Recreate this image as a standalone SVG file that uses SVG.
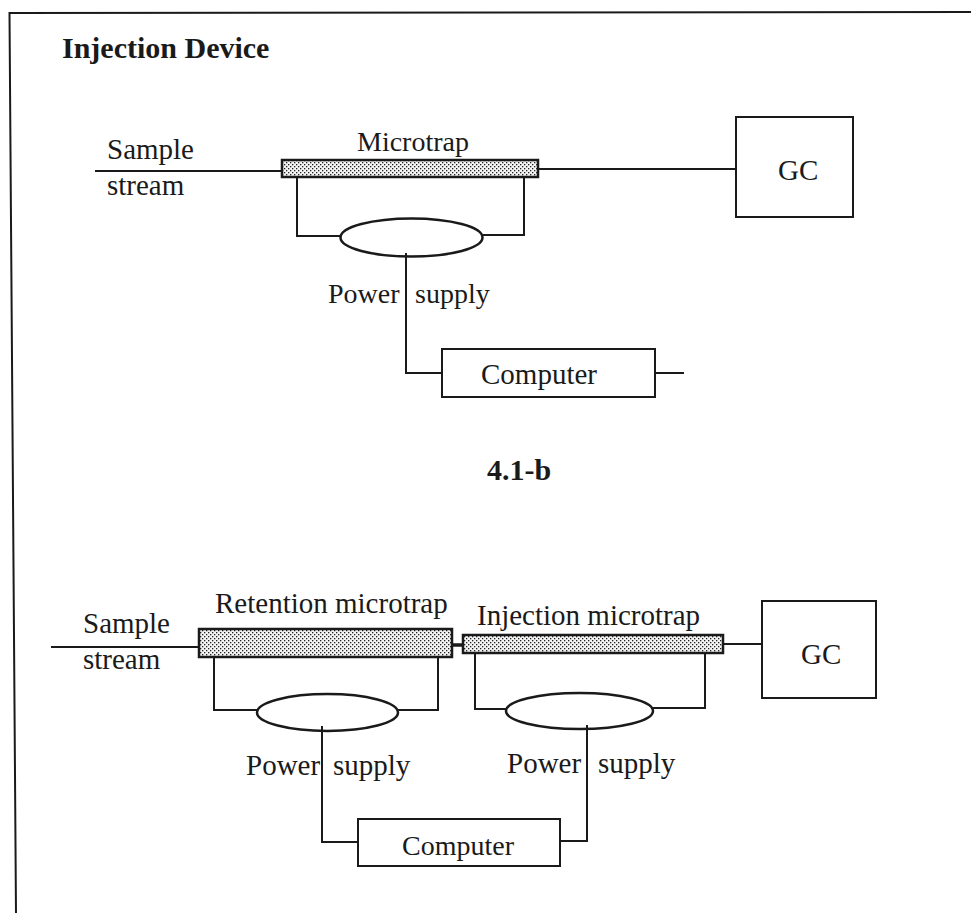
<svg xmlns="http://www.w3.org/2000/svg" width="971" height="913" viewBox="0 0 971 913">
<style>
text{font-family:"Liberation Serif","Times New Roman",serif;fill:#1a1a1a;font-size:29px}
.b{font-weight:bold;font-size:30px}
.c{font-size:28px}
.l{fill:none;stroke:#1a1a1a;stroke-width:2}
.h{fill:none;stroke:#1a1a1a;stroke-width:3.5}
.t{fill:url(#dots);stroke:#1a1a1a;stroke-width:2.5}
.e{fill:#fff;stroke:#1a1a1a;stroke-width:2.5}
.r{fill:#fff;stroke:#1a1a1a;stroke-width:2}
</style>
<defs><pattern id="dots" width="4" height="4" patternUnits="userSpaceOnUse"><rect width="4" height="4" fill="#f4f4f4"/><rect width="1.3" height="1.3" fill="#222"/><rect x="2" y="2" width="1.3" height="1.3" fill="#222"/></pattern></defs>
<rect width="971" height="913" fill="#fff"/>
<g id="frame"><path class="l" d="M16 913L9.5 13L971 12"/></g>
<g id="connectors">
<path class="l" d="M95 171H282M538 169H736M297 178V236H342M524 178V235H483M406 253V373H442M655 373H684"/>
<path class="l" d="M51 647H199M723 644H762M214 657V710H257M438 657V710H398M322 726V842H358M587 725V841H560M475 653V709H506M705 653V708H653"/>
<path class="h" d="M452 645H463"/>
</g>
<g id="title"><text class="b" x="62" y="58">Injection Device</text></g>
<g id="sample1"><text x="107" y="159">Sample</text><text x="107" y="195">stream</text></g>
<g id="microtrap1"><rect class="t" x="282" y="160" width="256" height="17"/><text class="c" x="357" y="151">Microtrap</text></g>
<g id="gc1"><rect class="r" x="736" y="117" width="117" height="100"/><text x="778" y="180">GC</text></g>
<g id="power1"><ellipse class="e" cx="411.5" cy="237.5" rx="71" ry="19"/><path class="l" d="M406 253V258"/><text class="c" x="328" y="303">Power</text><text class="c" x="415" y="303">supply</text></g>
<g id="computer1"><rect class="r" x="442" y="349" width="213" height="48"/><text x="481" y="384">Computer</text></g>
<g id="caption"><text class="b" x="487" y="480">4.1-b</text></g>
<g id="sample2"><text x="83" y="633">Sample</text><text x="83" y="669">stream</text></g>
<g id="retention"><rect class="t" x="199" y="629" width="253" height="28"/><text x="215" y="613">Retention microtrap</text></g>
<g id="injection"><rect class="t" x="463" y="635" width="260" height="18"/><text x="477" y="625">Injection microtrap</text></g>
<g id="gc2"><rect class="r" x="762" y="601" width="114" height="97"/><text x="801" y="664">GC</text></g>
<g id="power2"><ellipse class="e" cx="327.5" cy="712.5" rx="70.5" ry="18.5"/><path class="l" d="M322 726V732"/><text x="246" y="775">Power</text><text x="333" y="775">supply</text></g>
<g id="power3"><ellipse class="e" cx="579.5" cy="711" rx="73.5" ry="18"/><path class="l" d="M587 725V730"/><text x="507" y="773">Power</text><text x="598" y="773">supply</text></g>
<g id="computer2"><rect class="r" x="358" y="819" width="202" height="47"/><text class="c" x="402" y="855">Computer</text></g>
</svg>
